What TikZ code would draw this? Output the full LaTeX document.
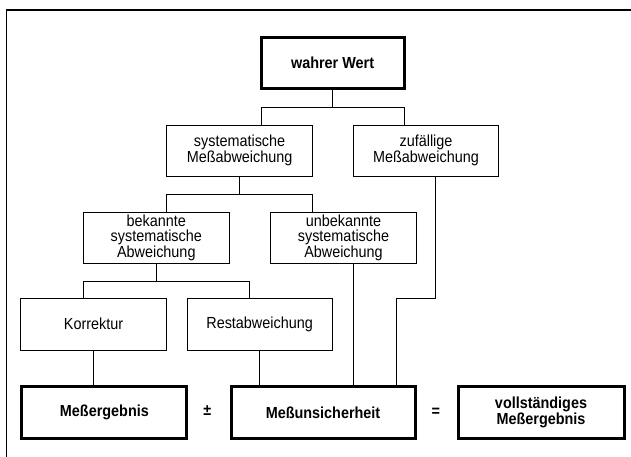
\documentclass[tikz,border=0pt]{standalone}
\usepackage{fontspec}
\setmainfont{Liberation Sans}[FakeStretch=0.9]
\usepackage{tikz}
\usetikzlibrary{positioning,calc}

\begin{document}
\begin{tikzpicture}[
      x=1pt, y=-1pt,
      part/.style={rectangle, draw=black, line width=0.9pt, fill=white,
                   inner sep=0pt, minimum height=51pt, minimum width=146pt,
                   align=center, font=\fontsize{16}{15.5}\selectfont},
      result/.style={part, line width=3pt, minimum height=52pt,
                     font=\bfseries\fontsize{16}{15.5}\selectfont},
      link/.style={draw=black, line width=0.9pt},
      sign/.style={font=\bfseries\fontsize{16}{16}\selectfont}
    ]
      \useasboundingbox (0,0) rectangle (631,457);
      %% frame
      \draw[line width=1.2pt] (631,10) -- (6.5,10) -- (6.5,457);
      %% tree of deviations
      \node[result, minimum width=143pt, minimum height=51pt] (ww) at (332.6,63) {wahrer Wert};
      \node[part] (sys) at (239.6,150.5) {systematische\\Meßabweichung};
      \node[part, minimum width=145pt] (zuf) at (426,150.5) {zufällige\\Meßabweichung};
      \node[part] (bek) at (156.3,237.5) {bekannte\\systematische\\Abweichung};
      \node[part] (unb) at (343.5,237.5) {unbekannte\\systematische\\Abweichung};
      \node[part, minimum height=52pt] (kor) at (93.6,324) {Korrektur};
      \node[part, minimum height=52pt, minimum width=145pt] (rest) at (259.6,324) {Restabweichung};
      %% result line
      \node[result, minimum width=165pt] (mes) at (104.4,412.5) {Meßergebnis};
      \node[sign] (pm) at (207.2,411) {±};
      \node[result, minimum width=184pt] (uns) at (323,412.5) {Meßunsicherheit};
      \node[sign] (eq) at (435.8,412) {=};
      \node[result, minimum width=166pt] (voll) at (541,412.5) {vollständiges\\Meßergebnis};
      %% branch points
      \coordinate (b1l) at (261,107);
      \coordinate (b1r) at (404.4,107);
      \coordinate (b2l) at (166.6,194);
      \coordinate (b2r) at (312.7,194);
      \coordinate (b3l) at (83.3,281);
      \coordinate (b3r) at (249.9,281);
      \coordinate (z1) at (435.8,298);
      \coordinate (z2) at (396,298);
      \coordinate (u1) at (353.7,300);
      %% connectors
      \draw[link] (ww.south) -- (ww.south |- b1l);
      \draw[link] (sys.north -| b1l) -- (b1l) -- (b1r) -- (zuf.north -| b1r);
      \draw[link] (sys.south) -- (sys.south |- b2l);
      \draw[link] (bek.north -| b2l) -- (b2l) -- (b2r) -- (unb.north -| b2r);
      \draw[link] (bek.south) -- (bek.south |- b3l);
      \draw[link] (kor.north -| b3l) -- (b3l) -- (b3r) -- (rest.north -| b3r);
      \draw[link] (kor.south) -- (kor.south |- mes.north);
      \draw[link] (rest.south) -- (rest.south |- uns.north);
      \draw[link] (unb.south -| u1) -- (uns.north -| u1);
      \draw[link] (zuf.south -| z1) -- (z1) -- (z2) -- (uns.north -| z2);
    \end{tikzpicture}
\end{document}
